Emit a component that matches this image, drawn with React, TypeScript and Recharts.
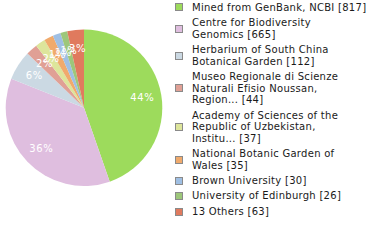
import { PieChart, Pie, Cell, Legend } from 'recharts'

const depositories = [
  'Mined from GenBank, NCBI',
  'Centre for Biodiversity\nGenomics',
  'Herbarium of South China\nBotanical Garden',
  'Museo Regionale di Scienze\nNaturali Efisio Noussan,\nRegion...',
  'Academy of Sciences of the\nRepublic of Uzbekistan,\nInstitu...',
  'National Botanic Garden of\nWales',
  'Brown University',
  'University of Edinburgh',
  '13 Others',
]
const records = [817, 665, 112, 44, 37, 35, 30, 26, 63]
const colors = [
  '#9ddb5c',
  '#dfbedf',
  '#cbd9e3',
  '#e0a095',
  '#dde59b',
  '#f0aa6c',
  '#9fbfe3',
  '#9dc77a',
  '#e07a5e',
]

const data = depositories.map((name, i) => ({ name, value: records[i] }))

const FONT = '"DejaVu Sans", Verdana, sans-serif'
const RADIAN = Math.PI / 180

interface LabelProps {
  cx: number
  cy: number
  midAngle: number
  outerRadius: number
  percent: number
}

const renderLabel = ({ cx, cy, midAngle, outerRadius, percent }: LabelProps) => {
  const r = outerRadius * 0.755
  const x = cx + r * Math.cos(-midAngle * RADIAN)
  const y = cy + r * Math.sin(-midAngle * RADIAN)
  return (
    <text
      x={x}
      y={y}
      fill="#fff"
      fontSize={10}
      fontFamily={FONT}
      letterSpacing={0.6}
      textAnchor="middle"
      dominantBaseline="central"
    >
      {`${Math.floor(percent * 100)}%`}
    </text>
  )
}

const LegendList = () => (
  <div
    style={{
      fontFamily: FONT,
      fontSize: 10,
      lineHeight: '11.8px',
      letterSpacing: 0.28,
      color: '#1a1a1a',
    }}
  >
    {data.map((d, i) => (
      <div key={d.name} style={{ display: 'flex', alignItems: 'center', marginBottom: 3.4 }}>
        <div
          style={{
            width: 8,
            height: 8,
            boxSizing: 'border-box',
            border: '1px solid #8a8a8a',
            background: colors[i],
            marginRight: 9,
            flexShrink: 0,
          }}
        />
        <div style={{ whiteSpace: 'pre' }}>{`${d.name} [${d.value}]`}</div>
      </div>
    ))}
  </div>
)

export default function App() {
  return (
    <div style={{ position: 'absolute', left: 0, top: 0, width: 380, height: 240, background: '#fff' }}>
      <PieChart width={380} height={240} margin={{ top: 0, right: 0, bottom: 0, left: 0 }}>
        <Pie
          data={data}
          dataKey="value"
          nameKey="name"
          cx={84}
          cy={107.7}
          outerRadius={78.3}
          startAngle={90}
          endAngle={-270}
          stroke="none"
          label={renderLabel}
          labelLine={false}
          isAnimationActive={false}
        >
          {data.map((d, i) => (
            <Cell key={d.name} fill={colors[i]} />
          ))}
        </Pie>
        <Legend
          layout="vertical"
          align="right"
          verticalAlign="top"
          content={() => <LegendList />}
          wrapperStyle={{ left: 175, right: 'auto', top: 1.6, width: 205 }}
        />
      </PieChart>
    </div>
  )
}
